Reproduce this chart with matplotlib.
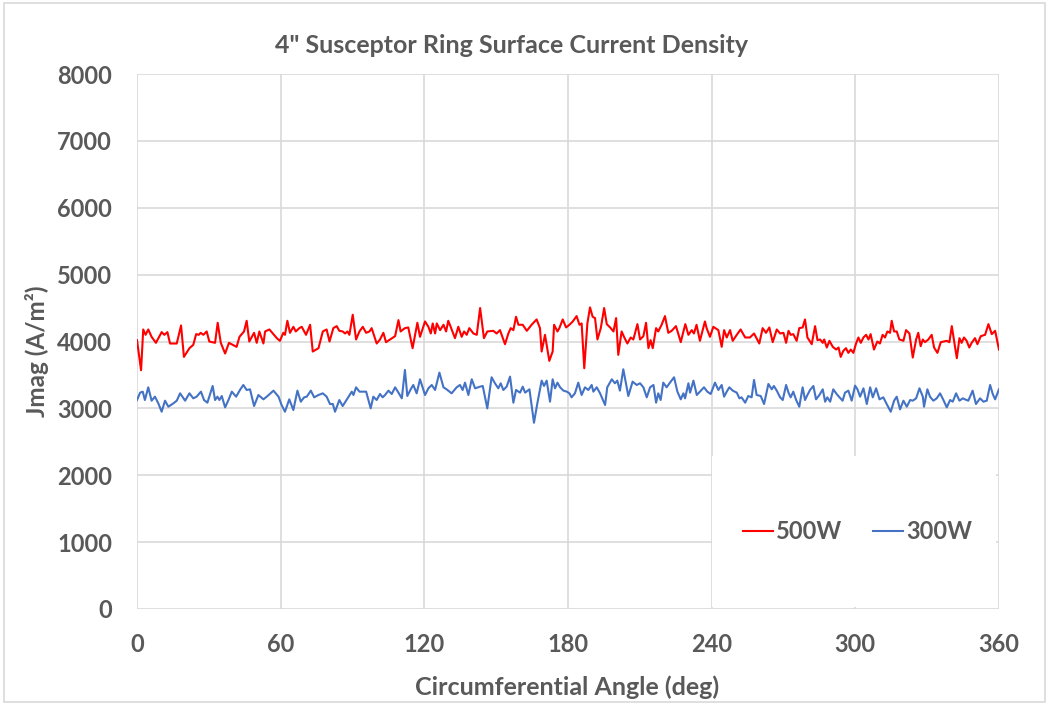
import matplotlib
matplotlib.use('Agg')
import matplotlib.pyplot as plt
from matplotlib.patches import Rectangle

# 500W series (angle in deg, Jmag in A/m^2)
red_deg = [0, 1.7, 2.6, 3.6, 4.7, 6.1, 7.9, 10.3, 11.4, 12.7, 13.8, 16.6, 18.4, 19.6, 21.9, 23.5, 24.7, 25.8,
           26.6, 27.7, 29.1, 30.2, 32.6, 33.7, 35.0, 36.8, 38.4, 41.6, 42.8, 44.7, 45.8, 46.9, 48.9, 50.0, 51.1,
           52.8, 53.5, 55.3, 58.4, 59.7, 61.1, 61.8, 62.8, 63.9, 65.3, 66.3, 67.8, 68.8, 70.6, 72.3, 73.4, 75.8,
           77.6, 79.2, 80.4, 82.0, 83.4, 84.5, 85.9, 86.9, 87.9, 88.7,
           90.1, 91.5, 92.9, 94.3, 95.7, 97.1, 98.0, 100.1, 101.5, 102.9, 104.0, 105.7, 107.8, 109.2, 110.1, 111.9,
           113.3, 115.1, 117.1, 118.2, 120.3, 121.7, 122.7, 123.5, 124.5, 125.2, 126.6, 128.0, 129.1, 130.0, 131.0,
           132.8, 134.2, 135.6, 136.6, 137.7, 138.8, 140.5, 141.9, 143.3, 144.9, 146.3, 148.8, 150.2, 151.6, 153.7,
           155.1, 156.1, 157.2, 158.3, 159.3, 161.1, 162.8, 164.8, 166.9, 168.3, 169.0, 170.4, 172.2, 173.6, 174.2,
           175.6, 176.4, 177.8, 179.2, 180.6, 182.0, 183.6, 184.8, 185.7, 186.8, 188.1, 189.2, 190.3, 191.3, 192.3,
           193.7, 195.1, 196.2, 197.6, 199.0, 200.1, 201.0, 202.4, 203.4, 204.8, 206.2, 207.3, 209.0, 210.1, 211.5,
           212.6, 213.6, 214.5, 215.4, 216.8, 217.7, 219.1, 220.5, 221.9, 223.3, 225.1, 227.1, 229.0, 230.3, 231.7,
           232.6, 233.7, 235.1, 237.2, 237.9, 239.3, 240.7, 242.8, 244.2, 245.2, 246.3, 247.7, 248.8, 250.5, 252.1,
           254.0, 256.0, 257.7, 259.9, 261.3, 262.7, 264.1, 265.5, 267.2, 268.6,
           270.0, 271.1, 272.1, 273.0, 274.1, 275.5, 276.6, 278.0, 279.0, 280.0, 281.8, 283.2, 284.2, 285.3, 286.4,
           287.0, 288.1, 289.2, 290.6, 292.0, 293.0, 293.9, 295.0, 296.1, 297.1, 298.1, 299.2, 300.3, 301.3, 302.3,
           303.4, 304.5, 305.5, 306.4, 307.8, 309.2, 310.3, 311.4, 312.4, 313.4, 314.5, 315.2, 316.2, 317.3, 318.4,
           319.4, 320.1, 321.2, 322.6, 324.0, 325.4, 326.3, 327.3, 328.2, 329.1, 330.5, 331.9, 332.9, 334.3, 335.7,
           338.2, 339.3, 340.3, 341.2, 342.4, 343.5, 344.4, 345.4, 346.5, 347.6, 348.6, 350.0, 351.0, 352.4, 354.2,
           355.6, 357.0, 358.4, 360.0]
red_jmag = [4020, 3570, 4180, 4100, 4180, 4070, 3980, 4140, 4100, 4140, 3970, 3970, 4240, 3770, 3900, 3950, 4110, 4100,
            4130, 4100, 4150, 4000, 3980, 4280, 3980, 3820, 3980, 3920, 4070, 4150, 4310, 4000, 4130, 3980, 4150,
            3970, 4150, 4180, 4050, 4010, 4130, 4100, 4310, 4130, 4220, 4150, 4200, 4220, 4100, 4250, 3850, 3900,
            4150, 4180, 4000, 4200, 4230, 4160, 4150, 4120, 4150, 4100,
            4400, 4030, 4150, 4220, 4130, 4150, 4200, 3970, 4030, 4130, 3990, 4030, 4080, 4320, 4150, 4200,
            4210, 3900, 4280, 4070, 4300, 4220, 4120, 4270, 4120, 4270, 4170, 4250, 4150, 4310, 4220,
            4050, 4220, 4070, 4150, 4100, 4200, 4120, 4100, 4500, 4050, 4150, 4160, 4120, 4170, 3960,
            4120, 4200, 4170, 4370, 4250, 4250, 4160, 4250, 4330, 4200, 3850, 4100, 3710, 3850, 4250,
            4150, 4200, 4330, 4210, 4250, 4300, 4380, 4250, 4270, 3600, 4270, 4510, 4370, 4350, 4030,
            4200, 4500, 4260, 4210, 4150, 4350, 3800, 4150, 4070, 3970, 4060, 4030, 4260, 4030, 4080,
            4280, 3900, 4020, 3900, 4200, 4150, 4250, 4380, 4130, 4160, 4230, 3990, 4260, 4100, 4170,
            4120, 4250, 4010, 4300, 4200, 4070, 4220, 4170, 3920, 4170, 4060, 4170, 4010, 4100, 4180,
            4060, 4060, 4120, 3970, 4200, 4130, 4210, 3990, 4180, 4120,
            4130, 3980, 4160, 4100, 4110, 4010, 4200, 4210, 4330, 4060, 3960, 4230, 4020, 4030, 3980,
            4030, 3910, 4010, 3920, 3880, 3910, 3770, 3860, 3900, 3830, 3880, 3830, 3970, 4060, 3980,
            4060, 4100, 4030, 4110, 3880, 4000, 3970, 4100, 4060, 4150, 4130, 4310, 4150, 4150, 4030,
            4020, 4010, 4170, 4120, 3760, 4030, 4130, 3930, 4030, 3990, 4030, 4100, 3910, 3830, 3990,
            4010, 3990, 4230, 4020, 3750, 4050, 3980, 4060, 4010, 3910, 3980, 4050, 3960, 4080, 4100,
            4260, 4110, 4160, 3880]

# 300W series
blue_deg = [0, 1.3, 2.4, 3.3, 4.7, 6.1, 7.5, 8.9, 10.3, 11.7, 13.1, 15.2, 16.6, 18.0, 20.1, 21.9, 23.5, 24.9,
            26.7, 28.0, 29.4, 31.6, 32.6, 33.6, 34.4, 35.4, 36.8, 38.2, 39.6, 41.4, 43.0, 44.4, 45.8, 47.2, 48.9,
            50.7, 52.8, 54.2, 57.0, 59.1, 60.4, 61.8, 63.6, 65.3, 67.0, 68.4, 69.8, 70.9, 72.6, 74.0, 75.8, 77.6,
            79.2, 80.6, 81.8, 82.7, 84.5, 85.9, 87.3, 88.3,
            89.7, 90.4, 91.5, 92.9, 94.3, 95.7, 97.6, 98.7, 100.1, 101.5, 102.6, 103.6, 105.0, 106.4, 107.8, 109.2,
            110.6, 111.9, 112.9, 114.3, 115.4, 116.8, 118.2, 120.3, 121.7, 123.1, 124.5, 126.3, 128.0, 129.3, 131.4,
            133.5, 134.9, 136.0, 137.0, 138.4, 139.8, 141.2, 143.3, 144.4, 146.3, 148.1, 149.5, 150.9, 151.9, 153.0,
            154.4, 155.8, 157.2, 158.3, 160.0, 161.1, 162.1, 163.9, 165.8, 167.2, 169.0, 170.0, 171.1, 172.5, 173.6,
            174.6, 175.6, 176.7, 178.1, 179.5, 180.6, 181.5, 182.9, 184.3, 185.7, 187.1, 188.5, 189.9, 190.6, 192.0,
            193.4, 195.5, 196.4, 198.3, 199.6, 200.6, 201.7, 203.1, 205.2, 207.0, 208.7, 210.1, 211.5, 212.9, 214.3,
            215.7, 216.8, 217.7, 218.7, 219.8, 221.2, 222.6, 224.3, 225.7, 227.1, 228.2, 228.9, 230.3, 231.0, 232.4,
            233.8, 235.1, 236.8, 238.2, 239.6, 241.4, 242.8, 244.2, 245.2, 246.3, 247.4, 248.8, 250.5, 251.6, 252.5,
            254.0, 255.3, 256.7, 257.7, 258.8, 260.5, 261.9, 263.7, 265.1, 266.0, 267.2, 268.6,
            269.7, 271.1, 272.1, 273.0, 274.1, 275.3, 276.6, 278.0, 279.0, 280.0, 281.1, 282.5, 283.6, 285.0, 286.4,
            287.4, 288.3, 289.5, 290.8, 292.2, 293.4, 294.7, 295.7, 297.1, 298.5, 299.9, 300.9, 302.0, 303.4, 304.8,
            306.2, 307.3, 308.7, 310.1, 311.7, 313.1, 314.8, 316.2, 317.3, 318.7, 320.1, 321.5, 322.9, 324.0, 325.4,
            326.8, 328.2, 328.7, 330.1, 331.2, 332.6, 334.0, 335.4, 336.8, 338.2, 339.6, 340.7, 342.1, 343.5, 344.9,
            345.8, 347.2, 349.0, 350.4, 352.1, 353.5, 354.9, 356.3, 357.4, 358.4, 360.0]
blue_jmag = [3125, 3235, 3250, 3125, 3315, 3115, 3175, 3075, 2950, 3115, 3025, 3075, 3115, 3225, 3115, 3225, 3150, 3175,
             3250, 3125, 3085, 3335, 3125, 3175, 3125, 3185, 3015, 3125, 3250, 3175, 3275, 3350, 3275, 3285, 3035,
             3200, 3135, 3175, 3265, 3175, 3050, 2950, 3135, 2975, 3265, 3100, 3165, 3175, 3265, 3165, 3200, 3225,
             3175, 3065, 3065, 2950, 3125, 3035, 3115, 3175,
             3250, 3200, 3315, 3250, 3250, 3250, 3000, 3175, 3125, 3215, 3165, 3200, 3265, 3215, 3315, 3235,
             3150, 3575, 3185, 3285, 3350, 3225, 3435, 3200, 3300, 3350, 3275, 3535, 3315, 3285, 3225,
             3315, 3350, 3275, 3385, 3200, 3435, 3300, 3325, 3335, 3000, 3465, 3375, 3300, 3375, 3275,
             3325, 3475, 3085, 3275, 3235, 3325, 3235, 3285, 2785, 3075, 3415, 3335, 3415, 3100, 3435,
             3300, 3385, 3315, 3265, 3250, 3225, 3165, 3225, 3385, 3200, 3315, 3275, 3350, 3250, 3315,
             3225, 3050, 3315, 3435, 3375, 3415, 3265, 3585, 3185, 3400, 3350, 3375, 3315, 3165, 3315,
             3350, 3085, 3225, 3125, 3385, 3315, 3385, 3465, 3250, 3135, 3225, 3150, 3375, 3235, 3415,
             3200, 3250, 3315, 3250, 3215, 3385, 3275, 3350, 3175, 3250, 3315, 3265, 3235, 3150, 3165,
             3085, 3185, 3165, 3425, 3200, 3185, 3065, 3365, 3285, 3335, 3265, 3165,
             3125, 3350, 3235, 3165, 3250, 3125, 3025, 3315, 3125, 3200, 3275, 3335, 3135, 3200, 3285,
             3100, 3165, 3100, 3285, 3215, 3165, 3115, 3235, 3265, 3115, 3340, 3285, 3175, 3300, 3065,
             3315, 3165, 3300, 3135, 3165, 3065, 2950, 3115, 3175, 2985, 3115, 3025, 3125, 3115, 3150,
             3300, 3175, 3025, 3285, 3175, 3115, 3150, 3225, 3125, 3015, 3125, 3100, 3225, 3115, 3150,
             3135, 3115, 3265, 3065, 3150, 3100, 3115, 3350, 3215, 3135, 3285]

x_ticks = [0, 60, 120, 180, 240, 300, 360]
y_ticks = [0, 1000, 2000, 3000, 4000, 5000, 6000, 7000, 8000]

TXT = '#595959'
GRID = '#d9d9d9'
plt.rcParams['font.family'] = ['Lato', 'DejaVu Sans']

fig = plt.figure(figsize=(10.49, 7.05), dpi=100)
fig.add_artist(Rectangle((0.004, 0.004), 0.992, 0.992, transform=fig.transFigure,
                         fill=False, edgecolor=GRID, linewidth=1.2))
ax = fig.add_axes([0.1306, 0.1362, 0.8217, 0.7588])

ax.plot(red_deg, red_jmag, color='#ff0000', lw=1.5, label='500W', zorder=3)
ax.plot(blue_deg, blue_jmag, color='#4472c4', lw=1.5, label='300W', zorder=3)

ax.set_xlim(0, 360)
ax.set_ylim(0, 8000)
ax.set_xticks(x_ticks)
ax.set_yticks(y_ticks)
ax.grid(True, color=GRID, lw=1.2, zorder=0)
ax.set_axisbelow(True)
for s in ax.spines.values():
    s.set_visible(False)
ax.tick_params(axis='y', length=0, colors=TXT, labelsize=17, pad=18)
ax.tick_params(axis='x', length=0, colors=TXT, labelsize=17, pad=17)
for lab in ax.get_xticklabels() + ax.get_yticklabels():
    lab.set_fontweight('bold')

ax.set_xlabel('Circumferential Angle (deg)', fontsize=18, fontweight='bold', color=TXT, va='center')
ax.set_ylabel('Jmag (A/m²)', fontsize=17.5, fontweight='bold', color=TXT, va='center')
ax.xaxis.set_label_coords(0.499, -0.146)
ax.yaxis.set_label_coords(-0.116, 0.482)
fig.text(0.4875, 0.936, '4" Susceptor Ring Surface Current Density', ha='center', va='center',
         fontsize=18, fontweight='bold', color=TXT)

# white legend area covering the gridlines
ax.add_patch(Rectangle((0.667, 0.004), 0.329, 0.282, transform=ax.transAxes,
                       facecolor='white', edgecolor='none', zorder=1))
leg = ax.legend(loc='center', bbox_to_anchor=(0.836, 0.144), ncol=2, frameon=False,
                prop={'size': 17, 'weight': 'bold'}, handlelength=1.27, handletextpad=0.15,
                columnspacing=1.3)
for t in leg.get_texts():
    t.set_color(TXT)

fig.savefig('out.png', dpi=100)
